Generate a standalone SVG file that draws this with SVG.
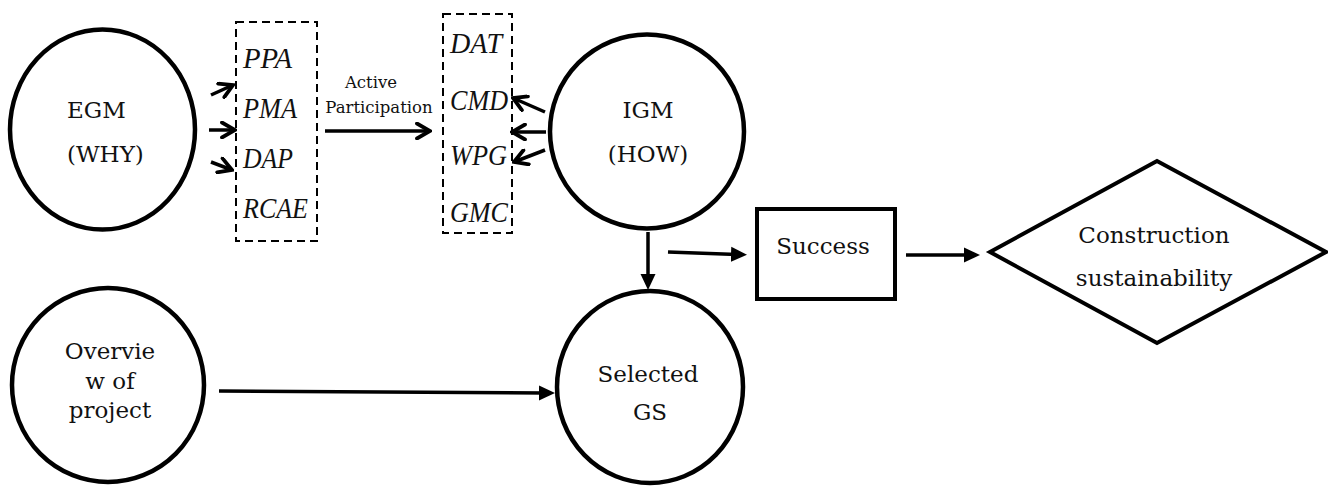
<svg xmlns="http://www.w3.org/2000/svg" width="1328" height="486" viewBox="0 0 1328 486">
<style>
.node{fill:#fff;stroke:#000;stroke-width:4.5}
.box{fill:#fff;stroke:#000;stroke-width:4}
.dash{fill:none;stroke:#000;stroke-width:2;stroke-dasharray:8 5}
.lbl{font-family:"DejaVu Serif","Liberation Serif",serif;font-size:23px;fill:#111}
.it{font-family:"Liberation Serif",serif;font-style:italic;font-size:29px;fill:#111}
.sm{font-family:"DejaVu Serif","Liberation Serif",serif;font-size:16.5px;fill:#111}
.c{stroke:#000;stroke-width:3.5;fill:none}
</style>
<defs>
<marker id="open" viewBox="0 0 18 18" refX="16" refY="9" markerWidth="18" markerHeight="18" markerUnits="userSpaceOnUse" orient="auto"><path d="M3,1.5 L16,9 L3,16.5" fill="none" stroke="#000" stroke-width="3.8" stroke-linecap="round" stroke-linejoin="miter"/></marker>
<marker id="fill" viewBox="0 0 16 16" refX="6" refY="8" markerWidth="16" markerHeight="16" markerUnits="userSpaceOnUse" orient="auto"><path d="M0,0.5 L16,8 L0,15.5 Z" fill="#000"/></marker>
</defs>
<rect width="1328" height="486" fill="#fff"/>

<g id="egm">
<ellipse class="node" cx="102.5" cy="129.5" rx="92.5" ry="100"/>
<text class="lbl" x="67" y="118">EGM</text>
<text class="lbl" x="67" y="162">(WHY)</text>
</g>

<g id="box1">
<rect class="dash" x="236" y="22" width="81" height="219"/>
<text class="it" x="243" y="68" textLength="49" lengthAdjust="spacingAndGlyphs">PPA</text>
<text class="it" x="243" y="118" textLength="54" lengthAdjust="spacingAndGlyphs">PMA</text>
<text class="it" x="243" y="168" textLength="50" lengthAdjust="spacingAndGlyphs">DAP</text>
<text class="it" x="243" y="218" textLength="65" lengthAdjust="spacingAndGlyphs">RCAE</text>
</g>

<g id="active-label">
<text class="sm" x="371" y="88" text-anchor="middle">Active</text>
<text class="sm" x="379" y="113" text-anchor="middle">Participation</text>
</g>

<g id="box2">
<rect class="dash" x="443" y="14" width="69" height="219"/>
<text class="it" x="450" y="53" textLength="52" lengthAdjust="spacingAndGlyphs">DAT</text>
<text class="it" x="450" y="110" textLength="58" lengthAdjust="spacingAndGlyphs">CMD</text>
<text class="it" x="450" y="165" textLength="57" lengthAdjust="spacingAndGlyphs">WPG</text>
<text class="it" x="450" y="222" textLength="58" lengthAdjust="spacingAndGlyphs">GMC</text>
</g>

<g id="igm">
<ellipse class="node" cx="647" cy="131.5" rx="97" ry="97"/>
<text class="lbl" x="648" y="118" text-anchor="middle">IGM</text>
<text class="lbl" x="648" y="162" text-anchor="middle">(HOW)</text>
</g>

<g id="success">
<rect class="box" x="757" y="209" width="138" height="90"/>
<text class="lbl" x="823" y="254" text-anchor="middle">Success</text>
</g>

<g id="sustainability">
<polygon class="box" points="990,252 1157,161 1326,252 1157,343"/>
<text class="lbl" x="1154" y="243" text-anchor="middle">Construction</text>
<text class="lbl" x="1154" y="286" text-anchor="middle">sustainability</text>
</g>

<g id="overview">
<ellipse class="node" cx="108" cy="385" rx="96" ry="97"/>
<text class="lbl" x="110" y="359" text-anchor="middle">Overvie</text>
<text class="lbl" x="110" y="389" text-anchor="middle">w of</text>
<text class="lbl" x="110" y="418" text-anchor="middle">project</text>
</g>

<g id="selected">
<ellipse class="node" cx="650" cy="387" rx="93" ry="96"/>
<text class="lbl" x="648" y="382" text-anchor="middle">Selected</text>
<text class="lbl" x="650" y="420" text-anchor="middle">GS</text>
</g>

<g id="connectors">
<line class="c" x1="211" y1="95" x2="233" y2="85" marker-end="url(#open)"/>
<line class="c" x1="209" y1="130" x2="235" y2="130" marker-end="url(#open)"/>
<line class="c" x1="211" y1="162" x2="232" y2="170" marker-end="url(#open)"/>
<line class="c" x1="325" y1="131" x2="430" y2="131" marker-end="url(#open)"/>
<line class="c" x1="545" y1="112" x2="513" y2="98" marker-end="url(#open)"/>
<line class="c" x1="546" y1="132" x2="512" y2="132" marker-end="url(#open)"/>
<line class="c" x1="545" y1="150" x2="514" y2="162" marker-end="url(#open)"/>
<line class="c" x1="648" y1="232" x2="648" y2="280" marker-end="url(#fill)"/>
<line class="c" x1="668" y1="252" x2="737" y2="254.5" marker-end="url(#fill)"/>
<line class="c" x1="906" y1="255" x2="970" y2="255" marker-end="url(#fill)"/>
<line class="c" x1="219" y1="391" x2="545" y2="393" marker-end="url(#fill)"/>
</g>
</svg>
